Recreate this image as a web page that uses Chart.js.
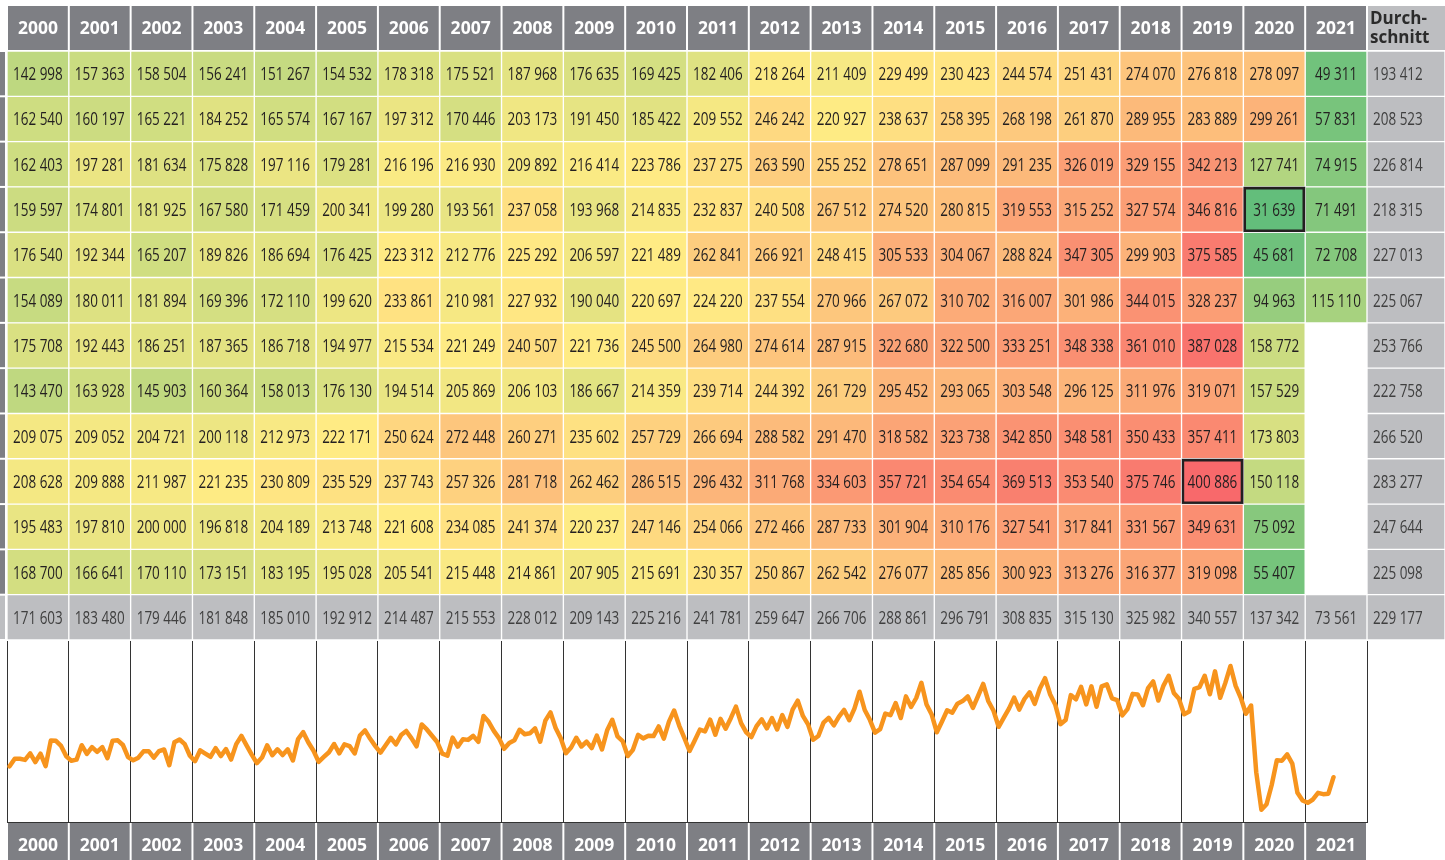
<!DOCTYPE html>
<html>
<head>
<meta charset="utf-8">
<script src="https://cdn.jsdelivr.net/npm/chart.js@4.4.1/dist/chart.umd.min.js"></script>
<style>
  html, body { margin: 0; padding: 0; background: #fff; }
  #tableBox { position: absolute; left: 0; top: 0; width: 1445px; height: 640px; }
  #lineBox { position: absolute; left: 0; top: 640px; width: 1445px; height: 220px; }
</style>
</head>
<body>
<div id="tableBox"><canvas id="table" width="1445" height="640"></canvas></div>
<div id="lineBox"><canvas id="line" width="1445" height="220"></canvas></div>
<script>
const years = ['2000', '2001', '2002', '2003', '2004', '2005', '2006', '2007', '2008', '2009', '2010',
  '2011', '2012', '2013', '2014', '2015', '2016', '2017', '2018', '2019', '2020', '2021'];
const months = ['Januar', 'Februar', 'März', 'April', 'Mai', 'Juni', 'Juli', 'August',
  'September', 'Oktober', 'November', 'Dezember'];

// monthly values per year (2000..2021)
const jan = [142998, 157363, 158504, 156241, 151267, 154532, 178318, 175521, 187968, 176635, 169425, 182406, 218264, 211409, 229499, 230423, 244574, 251431, 274070, 276818, 278097, 49311];
const feb = [162540, 160197, 165221, 184252, 165574, 167167, 197312, 170446, 203173, 191450, 185422, 209552, 246242, 220927, 238637, 258395, 268198, 261870, 289955, 283889, 299261, 57831];
const mar = [162403, 197281, 181634, 175828, 197116, 179281, 216196, 216930, 209892, 216414, 223786, 237275, 263590, 255252, 278651, 287099, 291235, 326019, 329155, 342213, 127741, 74915];
const apr = [159597, 174801, 181925, 167580, 171459, 200341, 199280, 193561, 237058, 193968, 214835, 232837, 240508, 267512, 274520, 280815, 319553, 315252, 327574, 346816, 31639, 71491];
const may = [176540, 192344, 165207, 189826, 186694, 176425, 223312, 212776, 225292, 206597, 221489, 262841, 266921, 248415, 305533, 304067, 288824, 347305, 299903, 375585, 45681, 72708];
const jun = [154089, 180011, 181894, 169396, 172110, 199620, 233861, 210981, 227932, 190040, 220697, 224220, 237554, 270966, 267072, 310702, 316007, 301986, 344015, 328237, 94963, 115110];
const jul = [175708, 192443, 186251, 187365, 186718, 194977, 215534, 221249, 240507, 221736, 245500, 264980, 274614, 287915, 322680, 322500, 333251, 348338, 361010, 387028, 158772, null];
const aug = [143470, 163928, 145903, 160364, 158013, 176130, 194514, 205869, 206103, 186667, 214359, 239714, 244392, 261729, 295452, 293065, 303548, 296125, 311976, 319071, 157529, null];
const sep = [209075, 209052, 204721, 200118, 212973, 222171, 250624, 272448, 260271, 235602, 257729, 266694, 288582, 291470, 318582, 323738, 342850, 348581, 350433, 357411, 173803, null];
const oct = [208628, 209888, 211987, 221235, 230809, 235529, 237743, 257326, 281718, 262462, 286515, 296432, 311768, 334603, 357721, 354654, 369513, 353540, 375746, 400886, 150118, null];
const nov = [195483, 197810, 200000, 196818, 204189, 213748, 221608, 234085, 241374, 220237, 247146, 254066, 272466, 287733, 301904, 310176, 327541, 317841, 331567, 349631, 75092, null];
const dec = [168700, 166641, 170110, 173151, 183195, 195028, 205541, 215448, 214861, 207905, 215691, 230357, 250867, 262542, 276077, 285856, 300923, 313276, 316377, 319098, 55407, null];

const yearAvg = [171603, 183480, 179446, 181848, 185010, 192912, 214487, 215553, 228012, 209143, 225216, 241781, 259647, 266706, 288861, 296791, 308835, 315130, 325982, 340557, 137342, 73561];
const monthAvg = [193412, 208523, 226814, 218315, 227013, 225067, 253766, 222758, 266520, 283277, 247644, 225098];
const totalAvg = 229177;

const monthRows = [jan, feb, mar, apr, may, jun, jul, aug, sep, oct, nov, dec];

const DARK = '#7e7f84';
const LIGHT = '#bdbec1';
const FONT_NUM = '"Open Sans", "Noto Sans", sans-serif';
const FONT_HEAD = '"Open Sans", "Noto Sans", sans-serif';
const SQUEEZE = 0.77; // no condensed face installed, so narrow the numbers by hand
const XMAX = 1438 / (1360 / 22); // Durchschnitt column runs to the page edge

// 3-colour scale (min green, median yellow, max red)
const sorted = monthRows.flat().filter(v => v != null).sort((a, b) => a - b);
const vMin = sorted[0];
const vMax = sorted[sorted.length - 1];
const vMid = (sorted[(sorted.length - 1) >> 1] + sorted[sorted.length >> 1]) / 2;

function heat(v) {
  const lo = [99, 190, 123], mid = [255, 235, 132], hi = [248, 105, 107];
  let a, b, t;
  if (v <= vMid) { a = lo; b = mid; t = (v - vMin) / (vMid - vMin); }
  else { a = mid; b = hi; t = (v - vMid) / (vMax - vMid); }
  const c = a.map((k, i) => Math.round(k + (b[i] - k) * t));
  return `rgb(${c[0]},${c[1]},${c[2]})`;
}

function fmt(n) {
  return String(n).replace(/\B(?=(\d{3})+(?!\d))/g, ' ');
}

const rowLabels = months.concat(['Durchschnitt']);

const cellSets = years.map((yr, c) => {
  const vals = monthRows.map(r => r[c]).concat([yearAvg[c]]);
  return {
    label: yr,
    values: vals,
    col: c,
    data: vals.map(v => v == null ? null : [c, c + 1]),
    backgroundColor: vals.map((v, r) => r === 12 ? LIGHT : (v == null ? 'transparent' : heat(v))),
    borderColor: vals.map((v, r) => (v === vMin || v === vMax) && r < 12 ? '#231f20' : 'rgba(255,255,255,0.8)'),
    borderWidth: vals.map((v, r) => (v === vMin || v === vMax) && r < 12 ? 3 : 1)
  };
});
cellSets.push({
  label: 'Durchschnitt',
  values: monthAvg.concat([totalAvg]),
  col: 22,
  data: rowLabels.map(() => [22, XMAX]),
  backgroundColor: LIGHT,
  borderColor: 'rgba(255,255,255,0.8)',
  borderWidth: 1
});

const tableDeco = {
  id: 'tableDeco',
  beforeDraw(chart) {
    const { ctx, chartArea: a, scales: { x, y } } = chart;
    const rowH = y.getPixelForValue(1) - y.getPixelForValue(0);
    ctx.save();
    years.forEach((yr, c) => {
      const l = x.getPixelForValue(c), r = x.getPixelForValue(c + 1);
      ctx.fillStyle = DARK;
      ctx.fillRect(l + 1, 6, r - l - 2, a.top - 7);
    });
    const l = x.getPixelForValue(22);
    ctx.fillStyle = LIGHT;
    ctx.fillRect(l + 1, 6, a.right - l - 1, a.top - 7);
    ctx.fillStyle = '#2b2b2b';
    ctx.font = 'bold 17px ' + FONT_HEAD;
    ctx.textBaseline = 'middle';
    ctx.textAlign = 'left';
    ctx.fillText('Durch-', l + 3, 19);
    ctx.fillText('schnitt', l + 3, 38);
    // cut-off row header strip at the left edge
    rowLabels.forEach((m, r) => {
      const top = a.top + r * rowH;
      ctx.fillStyle = r === 12 ? LIGHT : DARK;
      ctx.fillRect(0, top + 1, a.left - 2, rowH - 2);
    });
    ctx.restore();
  },
  afterDatasetsDraw(chart) {
    const { ctx, scales: { x } } = chart;
    ctx.save();
    ctx.font = '17.5px ' + FONT_NUM;
    ctx.textAlign = 'center';
    ctx.textBaseline = 'middle';
    chart.data.datasets.forEach((ds, di) => {
      const meta = chart.getDatasetMeta(di);
      const cx = x.getPixelForValue(ds.col + 0.5);
      meta.data.forEach((el, r) => {
        const v = ds.values[r];
        if (v == null) return;
        ctx.fillStyle = (ds.col === 22 || r === 12) ? '#404040' : '#231f20';
        ctx.setTransform(SQUEEZE, 0, 0, 1, cx, el.y + 1.5);
        ctx.fillText(fmt(v), 0, 0);
      });
    });
    ctx.restore();
  }
};

new Chart(document.getElementById('table'), {
  type: 'bar',
  data: { labels: rowLabels, datasets: cellSets },
  options: {
    responsive: false,
    animation: false,
    indexAxis: 'y',
    layout: { padding: { left: 7, right: 0, top: 0, bottom: 0 } },
    datasets: { bar: { barPercentage: 1, categoryPercentage: 1, grouped: false, borderSkipped: false } },
    plugins: { legend: { display: false }, tooltip: { enabled: false } },
    scales: {
      x: {
        type: 'linear',
        position: 'top',
        min: 0,
        max: XMAX,
        afterBuildTicks: s => { s.ticks = years.map((yr, i) => ({ value: i + 0.5 })); },
        afterFit: s => { s.height = 51; },
        grid: { display: false, drawTicks: false },
        border: { display: false },
        ticks: {
          autoSkip: false,
          maxRotation: 0,
          padding: 11,
          color: '#ffffff',
          font: { family: FONT_HEAD, size: 17.5, weight: 'bold' },
          callback: (v, i) => years[i]
        }
      },
      y: { type: 'category', display: false }
    }
  },
  plugins: [tableDeco]
});

// monthly series for the line, one point per month
const series = [];
years.forEach((yr, c) => {
  monthRows.forEach((row, m) => {
    if (row[c] != null) series.push({ x: c * 12 + m + 0.5, y: row[c] });
  });
});

const lineDeco = {
  id: 'lineDeco',
  beforeDraw(chart) {
    const { ctx, chartArea: a, scales: { x } } = chart;
    const w = a.width / years.length;
    ctx.save();
    ctx.fillStyle = DARK;
    years.forEach((yr, i) => {
      const cx = x.getPixelForValue(i);
      ctx.fillRect(cx - w / 2 + 1, a.bottom + 1, w - 2, chart.height - a.bottom);
    });
    ctx.restore();
  }
};

new Chart(document.getElementById('line'), {
  type: 'line',
  data: {
    labels: years,
    datasets: [{
      label: 'Monatswerte',
      data: series,
      xAxisID: 'm',
      borderColor: '#f7941d',
      borderWidth: 4.5,
      pointRadius: 0,
      tension: 0,
      borderJoinStyle: 'round',
      borderCapStyle: 'round'
    }]
  },
  options: {
    responsive: false,
    animation: false,
    layout: { padding: { left: 7, right: 78, top: 1, bottom: 0 } },
    plugins: { legend: { display: false }, tooltip: { enabled: false } },
    scales: {
      x: {
        type: 'category',
        position: 'bottom',
        offset: true,
        afterFit: s => { s.height = 38; },
        grid: { offset: true, drawTicks: false, color: '#333333', lineWidth: 1 },
        border: { display: true, color: '#333333' },
        ticks: {
          autoSkip: false,
          maxRotation: 0,
          padding: 14,
          color: '#ffffff',
          font: { family: FONT_HEAD, size: 17.5, weight: 'bold' }
        }
      },
      m: { type: 'linear', display: false, min: 0, max: years.length * 12 },
      y: {
        min: 0,
        max: 465000,
        afterFit: s => { s.width = 0; },
        ticks: { display: false, stepSize: 100000 },
        grid: { drawTicks: false, color: c => c.tick && c.tick.value % 100000 === 0 ? '#333333' : 'rgba(0,0,0,0)' },
        border: { display: true, color: '#333333' }
      }
    }
  },
  plugins: [lineDeco]
});
</script>
</body>
</html>
